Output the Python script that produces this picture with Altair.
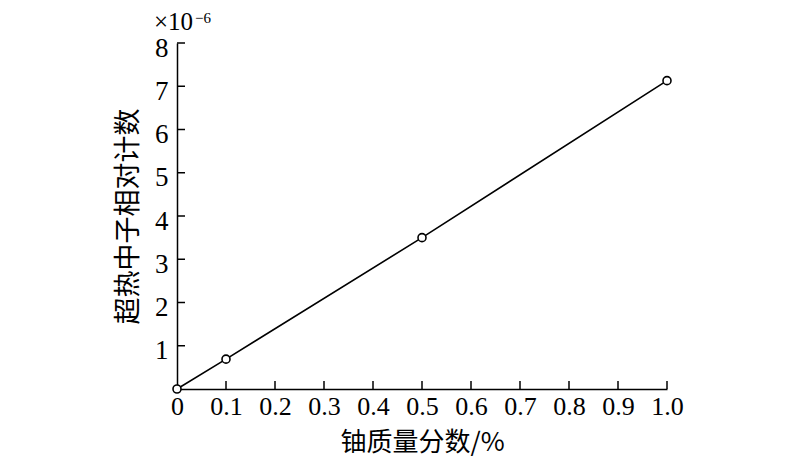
import altair as alt
import pandas as pd

# data
x_vals = [0.0, 0.1, 0.5, 1.0]
y_vals = [0.0, 0.69, 3.5, 7.13]
x_tick_vals = [0.1, 0.2, 0.3, 0.4, 0.5, 0.6, 0.7, 0.8, 0.9, 1.0]
x_label_vals = [0.0, 0.1, 0.2, 0.3, 0.4, 0.5, 0.6, 0.7, 0.8, 0.9, 1.0]
y_tick_vals = [1, 2, 3, 4, 5, 6, 7, 8]
x_title = "铀质量分数/%"
y_title = "超热中子相对计数"

W, H = 490, 346
SERIF = "Liberation Serif"
CJK = "Noto Sans CJK SC"

df = pd.DataFrame({"x": x_vals, "y": y_vals})
xt = pd.DataFrame({"x": x_tick_vals})
yt = pd.DataFrame({"y": y_tick_vals})
one = pd.DataFrame({"a": [0]})

xs = alt.Scale(domain=[0, 1], nice=False, zero=False)
ys = alt.Scale(domain=[0, 8], nice=False)

x_axis = alt.Axis(
    values=x_label_vals,
    labelExpr="datum.value == 0 ? '0' : format(datum.value, '.1f')",
    ticks=False, tickSize=0, grid=False,
    domainColor="black", domainWidth=1.5,
    labelFont=SERIF, labelFontSize=26, labelColor="black", labelPadding=4,
    labelFlush=False, labelOverlap=False,
    title=x_title, titleFont=CJK, titleFontSize=26, titleFontWeight="normal",
    titleColor="black", titlePadding=10,
)
y_axis = alt.Axis(
    values=y_tick_vals,
    ticks=False, tickSize=0, grid=False,
    domainColor="black", domainWidth=1.5,
    labelFont=SERIF, labelFontSize=27, labelColor="black", labelPadding=9,
    labelOffset=5,
    labelFlush=False, labelOverlap=False,
    title=y_title, titleFont=CJK, titleFontSize=27, titleFontWeight="normal",
    titleColor="black", titlePadding=12,
)

X = alt.X("x:Q", scale=xs, axis=x_axis)
Y = alt.Y("y:Q", scale=ys, axis=y_axis)

line = alt.Chart(df).mark_line(color="black", strokeWidth=1.6).encode(x=X, y=Y)
pts = alt.Chart(df).mark_point(
    shape="circle", size=64, filled=False, color="black", fill="white",
    fillOpacity=1, strokeWidth=1.6, opacity=1,
).encode(x=X, y=Y)
xticks = alt.Chart(xt).mark_rule(color="black", strokeWidth=1.5).encode(
    x=X,
    y=alt.value(H),
    y2=alt.value(H - 8),
)
yticks = alt.Chart(yt).mark_rule(color="black", strokeWidth=1.5).encode(
    y=Y,
    x=alt.value(0),
    x2=alt.value(8),
)
times10 = alt.Chart(one).mark_text(
    font=SERIF, fontSize=25, color="black", align="left", baseline="alphabetic"
).encode(x=alt.value(-23), y=alt.value(-13), text=alt.value("×10"))
exp6 = alt.Chart(one).mark_text(
    font=SERIF, fontSize=15, color="black", align="left", baseline="alphabetic"
).encode(x=alt.value(18), y=alt.value(-20), text=alt.value("\u22126"))

chart = alt.layer(line, xticks, yticks, pts, times10, exp6).properties(
    width=W, height=H,
    background="white",
    autosize=alt.AutoSizeParams(type="none"),
    padding={"left": 169, "top": 35, "right": 100, "bottom": 72},
).configure_view(stroke=None)

chart.save("out.html", embed_options={"renderer": "svg", "actions": False})
